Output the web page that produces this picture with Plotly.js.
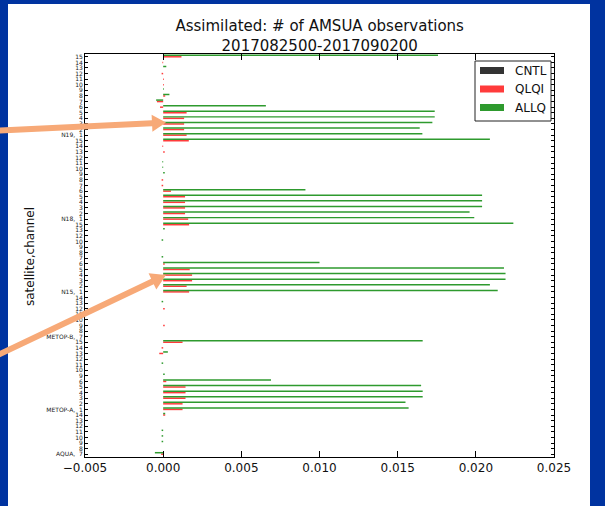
<!DOCTYPE html>
<html>
<head>
<meta charset="utf-8">
<script src="https://cdn.plot.ly/plotly-3.0.1.min.js"></script>
<style>
  html, body { margin: 0; padding: 0; background: #0033a0; }
  #chart { width: 605px; height: 506px; }
</style>
</head>
<body>
<div id="chart"></div>
<script>
// Rows from bottom to top: satellite and AMSU-A channel
const satellite = [
  "AQUA","AQUA","AQUA","AQUA","AQUA","AQUA","AQUA","AQUA",
  "METOP-A","METOP-A","METOP-A","METOP-A","METOP-A","METOP-A","METOP-A","METOP-A","METOP-A","METOP-A","METOP-A","METOP-A","METOP-A",
  "METOP-B","METOP-B","METOP-B","METOP-B","METOP-B","METOP-B","METOP-B","METOP-B",
  "N15","N15","N15","N15","N15","N15","N15","N15","N15","N15","N15","N15","N15",
  "N18","N18","N18","N18","N18","N18","N18","N18","N18","N18","N18","N18","N18","N18","N18",
  "N19","N19","N19","N19","N19","N19","N19","N19","N19","N19","N19","N19","N19","N19","N19"
];
const channel = [
  7,8,9,10,11,12,13,14,
  1,2,3,4,5,6,9,10,11,12,13,14,15,
  7,8,9,10,11,12,13,14,
  1,2,3,4,5,6,7,8,9,10,12,13,15,
  1,2,3,4,5,6,7,8,9,10,11,12,13,14,15,
  1,2,3,4,5,6,7,8,9,10,11,12,13,14,15
];

// Fractional change in assimilated observation counts
const cntl = satellite.map(() => 0);
const qlqi = [
  -0.00013,0,0,0,0,0,0,0.00013,
  0.00124,0.00124,0.00143,0.00143,0.00143,0.0002,0,0,0,0,-0.00025,-0.0001,0.00124,
  0,0,0.0001,0,0,0.0001,0,0,
  0.00166,0.0015,0.00185,0.00185,0.0017,0.0001,0,0,0,0,0,0,0.00166,
  0.0016,0.0014,0.0014,0.0014,0.0014,0.0005,-0.0001,-0.0001,0,0,0,0,0.0001,-0.00005,0.00164,
  0.0015,0.00134,0.00134,0.00134,0.0015,-0.0002,-0.0004,0.00013,0,0.00005,0.00005,-0.0001,0,-0.00005,0.00117
];
const allq = [
  -0.00053,0,-0.0001,-0.0001,-0.0001,0,0,0.00013,
  0.0157,0.0155,0.0166,0.0166,0.0165,0.0069,0.0001,0,-0.0001,0,0.0003,0,0.0166,
  0,0,0,0,0,0,-0.0001,0,
  0.0214,0.0209,0.0219,0.0219,0.0218,0.0100,-0.0001,0,0,-0.0001,0,0.0001,0.0224,
  0.0199,0.0196,0.0204,0.0204,0.0204,0.0091,0,0,0.0001,-0.00005,-0.00005,0,0,0,0.0209,
  0.01658,0.01641,0.01722,0.01737,0.01737,0.00657,-0.00045,0.0004,0.00005,0,0,0,0.0002,0,0.01758
];

const xTicks = [-0.005, 0, 0.005, 0.01, 0.015, 0.02, 0.025];
const seriesNames = ["CNTL", "QLQI", "ALLQ"];
const seriesColors = ["#333333", "#ff3b3b", "#2e9a2e"];

// Category keys and their tick text (satellite name shown on the first row of each group)
const keys = satellite.map((s, i) => s + "," + channel[i]);
const tickText = satellite.map((s, i) =>
  (i === 0 || satellite[i - 1] !== s) ? s + ",\u00a0\u00a0" + channel[i] : String(channel[i]));

const FONT = "DejaVu Sans, Liberation Sans, sans-serif";
const M = { l: 85, r: 51, t: 54, b: 49 };
const PW = 605 - M.l - M.r, PH = 506 - M.t - M.b;
const px = x => (x - M.l) / PW;
const py = y => (506 - M.b - y) / PH;

function arrowPath(x0, y0, x1, y1, w, hl, hw) {
  const dx = x1 - x0, dy = y1 - y0, L = Math.hypot(dx, dy);
  const ux = dx / L, uy = dy / L, nx = -uy, ny = ux;
  const bx = x1 - ux * hl, by = y1 - uy * hl;
  const pts = [
    [x0 + nx * w / 2, y0 + ny * w / 2],
    [bx + nx * w / 2, by + ny * w / 2],
    [bx + nx * hw, by + ny * hw],
    [x1, y1],
    [bx - nx * hw, by - ny * hw],
    [bx - nx * w / 2, by - ny * w / 2],
    [x0 - nx * w / 2, y0 - ny * w / 2]
  ];
  return "M" + pts.map(p => px(p[0]).toFixed(5) + "," + py(p[1]).toFixed(5)).join(" L") + " Z";
}

const series = [cntl, qlqi, allq];
const traces = series.map((vals, k) => ({
  type: "bar",
  orientation: "h",
  name: seriesNames[k],
  x: vals,
  y: keys,
  marker: { color: seriesColors[k], line: { width: 0 } },
  showlegend: false,
  hoverinfo: "skip"
}));

const shapes = [
  // white slide panel
  { type: "rect", xref: "paper", yref: "paper", layer: "below",
    x0: px(8), x1: px(590), y0: py(506), y1: py(4),
    fillcolor: "#ffffff", line: { width: 0 } },
  // legend frame
  { type: "rect", xref: "paper", yref: "paper", layer: "above",
    x0: px(475), x1: px(551), y0: py(121), y1: py(61),
    fillcolor: "#ffffff", line: { color: "#222222", width: 1 } }
];
const legendY = [70.5, 89, 107.5];
const annotations = [];
seriesNames.forEach((n, k) => {
  shapes.push({ type: "rect", xref: "paper", yref: "paper", layer: "above",
    x0: px(480), x1: px(504), y0: py(legendY[k] + 3.5), y1: py(legendY[k] - 3.5),
    fillcolor: seriesColors[k], line: { width: 0 } });
  annotations.push({ xref: "paper", yref: "paper", x: px(513), y: py(legendY[k]),
    xanchor: "left", yanchor: "middle", showarrow: false, text: n,
    font: { family: FONT, size: 12, color: "#111111" } });
});
// pointer arrows
shapes.push({ type: "path", xref: "paper", yref: "paper", layer: "above",
  path: arrowPath(-2, 130.5, 166, 122.5, 6, 14, 8.5),
  fillcolor: "#f7a977", line: { width: 0 } });
shapes.push({ type: "path", xref: "paper", yref: "paper", layer: "above",
  path: arrowPath(-2, 355, 166, 275, 6, 15, 9),
  fillcolor: "#f7a977", line: { width: 0 } });

annotations.push({ xref: "paper", yref: "paper", x: px(30), y: py(257),
  xanchor: "center", yanchor: "middle",
  showarrow: false, textangle: -90, text: "satellite,channel",
  font: { family: FONT, size: 12, color: "#111111" } });

const layout = {
  width: 605, height: 506,
  margin: M,
  paper_bgcolor: "#0033a0",
  plot_bgcolor: "#ffffff",
  barmode: "group",
  bargap: 0.2,
  bargroupgap: 0,
  showlegend: false,
  title: {
    text: "Assimilated: # of AMSUA observations<br>2017082500-2017090200",
    font: { family: FONT, size: 15, color: "#111111" },
    x: px(319.7), xref: "paper", xanchor: "center",
    y: 1 - 31 / 506, yref: "container", yanchor: "middle"
  },
  xaxis: {
    range: [-0.005, 0.025],
    tickvals: xTicks,
    tickformat: ".3f",
    ticks: "inside", ticklen: 6, tickcolor: "#000",
    showline: true, linecolor: "#000", linewidth: 1, mirror: "ticks",
    showgrid: false, zeroline: false,
    tickfont: { family: FONT, size: 12, color: "#111111" }
  },
  yaxis: {
    type: "category",
    categoryorder: "array", categoryarray: keys,
    range: [-0.5, keys.length - 0.5],
    tickmode: "array", tickvals: keys, ticktext: tickText,
    ticks: "inside", ticklen: 3, tickcolor: "#000",
    showline: true, linecolor: "#000", linewidth: 1, mirror: "ticks",
    showgrid: false, zeroline: false,
    tickfont: { family: FONT, size: 6, color: "#222222" }
  },
  shapes: shapes,
  annotations: annotations
};

Plotly.newPlot("chart", traces, layout, { staticPlot: true });
</script>
</body>
</html>
